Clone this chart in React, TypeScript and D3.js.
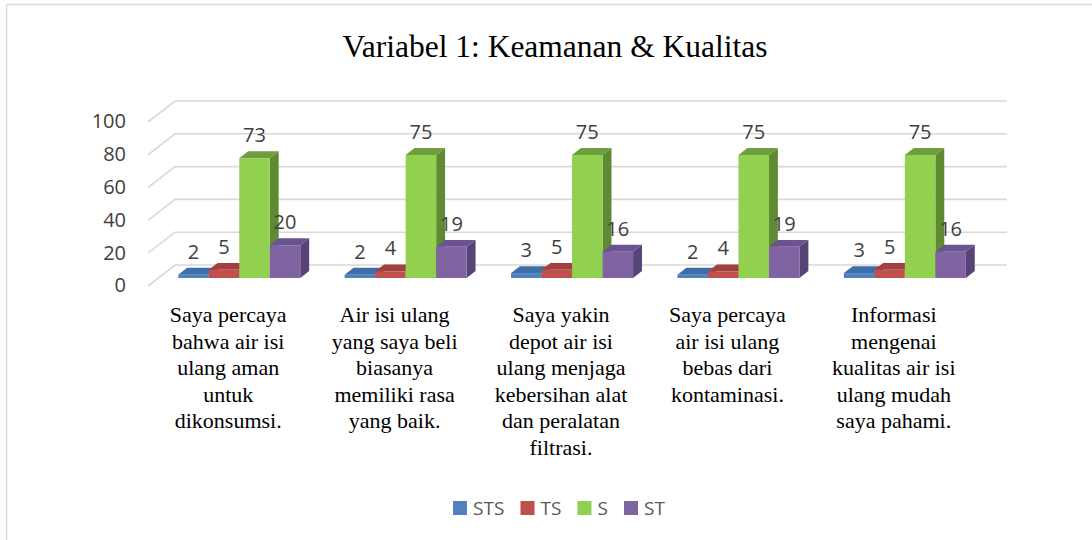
import React from "react";
import * as d3 from "d3";

const categories: string[][] = [
  ["Saya percaya", "bahwa air isi", "ulang aman", "untuk", "dikonsumsi."],
  ["Air isi ulang", "yang saya beli", "biasanya", "memiliki rasa", "yang baik."],
  ["Saya yakin", "depot air isi", "ulang menjaga", "kebersihan alat", "dan peralatan", "filtrasi."],
  ["Saya percaya", "air isi ulang", "bebas dari", "kontaminasi."],
  ["Informasi", "mengenai", "kualitas air isi", "ulang mudah", "saya pahami."],
];
const seriesNames = ["STS", "TS", "S", "ST"];
const STS = [2, 2, 3, 2, 3];
const TS = [5, 4, 5, 4, 5];
const S = [73, 75, 75, 75, 75];
const ST = [20, 19, 16, 19, 16];
const yTicks = [0, 20, 40, 60, 80, 100];
const title = "Variabel 1: Keamanan & Kualitas";

const seriesValues = [STS, TS, S, ST];
const colors = [
  { front: "#4f81bd", top: "#3e6ea8", side: "#355e90" },
  { front: "#c0504d", top: "#a33f3c", side: "#8d3633" },
  { front: "#92d050", top: "#6f9e3e", side: "#5f8a31" },
  { front: "#8064a2", top: "#6b5290", side: "#584379" },
];

const W = 1092;
const H = 540;
// oblique depth vector for full floor depth
const DX = 27;
const DY = -21;
const f1 = 0.38; // bar front depth fraction
const f2 = 0.71; // bar back depth fraction

export default function App() {
  const y = d3.scaleLinear().domain([0, 100]).range([286, 122]);
  const x = d3
    .scaleBand<number>()
    .domain(categories.map((_, i) => i))
    .range([148, 980])
    .paddingInner(0)
    .paddingOuter(0);
  const xs = d3
    .scaleBand<number>()
    .domain(seriesNames.map((_, i) => i))
    .range([20, 142])
    .padding(0);

  const proj = (px: number, v: number, d: number): [number, number] => [
    px + d * DX,
    y(v) + d * DY,
  ];
  const pts = (arr: [number, number][]) => arr.map((p) => p.join(",")).join(" ");

  const bars: React.ReactNode[] = [];
  const labels: React.ReactNode[] = [];
  categories.forEach((_, ci) => {
    seriesNames.forEach((_, si) => {
      const v = seriesValues[si][ci];
      const x0 = (x(ci) as number) + (xs(si) as number);
      const x1 = x0 + xs.bandwidth();
      const c = colors[si];
      const fbl = proj(x0, 0, f1);
      const fbr = proj(x1, 0, f1);
      const ftl = proj(x0, v, f1);
      const ftr = proj(x1, v, f1);
      const btl = proj(x0, v, f2);
      const btr = proj(x1, v, f2);
      const bbr = proj(x1, 0, f2);
      bars.push(
        <g key={`b${ci}-${si}`}>
          <polygon points={pts([ftr, btr, bbr, fbr])} fill={c.side} />
          <polygon points={pts([ftl, btl, btr, ftr])} fill={c.top} />
          <polygon points={pts([fbl, ftl, ftr, fbr])} fill={c.front} />
        </g>
      );
      labels.push(
        <text
          key={`l${ci}-${si}`}
          x={(ftl[0] + ftr[0]) / 2}
          y={ftl[1] - 16}
          textAnchor="middle"
          fontFamily="'Open Sans', sans-serif"
          fontSize={20}
          fill="#404040"
        >
          {v}
        </text>
      );
    });
  });

  // legend layout
  const legendItems: { name: string; x: number; i: number }[] = [];
  let lx = 453;
  seriesNames.forEach((n, i) => {
    legendItems.push({ name: n, x: lx, i });
    lx += 14 + 6 + n.length * 10.5 + 16;
  });

  return (
    <svg
      width={W}
      height={H}
      style={{ position: "absolute", left: 0, top: 0, background: "#fff" }}
    >
      <rect x={0} y={0} width={W} height={H} fill="#fff" />
      {/* frame */}
      <line x1={6.5} y1={4.5} x2={W} y2={4.5} stroke="#d9d9d9" strokeWidth={1.5} />
      <line x1={6.5} y1={4.5} x2={6.5} y2={H} stroke="#d9d9d9" strokeWidth={1.5} />

      <text
        x={555}
        y={57}
        textAnchor="middle"
        fontFamily="'Liberation Serif', 'Times New Roman', serif"
        fontSize={31.5}
        fill="#000"
      >
        {title}
      </text>

      {/* gridlines: side wall diagonals + back wall */}
      {yTicks.map((t) => {
        const a = proj(148, t, 0);
        const b = proj(148, t, 1);
        const c = proj(980, t, 1);
        return (
          <g key={`g${t}`}>
            <polyline
              points={pts([a, b, c])}
              fill="none"
              stroke="#d9d9d9"
              strokeWidth={1.6}
            />
          </g>
        );
      })}
      {yTicks.map((t) => (
        <text
          key={`t${t}`}
          x={126}
          y={y(t) + 1}
          textAnchor="end"
          dominantBaseline="middle"
          fontFamily="'Open Sans', sans-serif"
          fontSize={20}
          fill="#404040"
        >
          {t}
        </text>
      ))}

      {bars}
      {labels}

      {categories.map((lines, ci) => (
        <text
          key={`c${ci}`}
          textAnchor="middle"
          fontFamily="'Liberation Serif', 'Times New Roman', serif"
          fontSize={22}
          fill="#000"
        >
          {lines.map((ln, li) => (
            <tspan
              key={li}
              x={(x(ci) as number) + x.bandwidth() / 2 - 3}
              y={322 + li * 26.5}
            >
              {ln}
            </tspan>
          ))}
        </text>
      ))}

      {legendItems.map((it) => (
        <g key={`lg${it.i}`}>
          <rect x={it.x} y={501} width={14} height={14} fill={colors[it.i].front} />
          <text
            x={it.x + 20}
            y={515}
            fontFamily="'Open Sans', sans-serif"
            fontSize={19}
            fill="#595959"
          >
            {it.name}
          </text>
        </g>
      ))}
    </svg>
  );
}
